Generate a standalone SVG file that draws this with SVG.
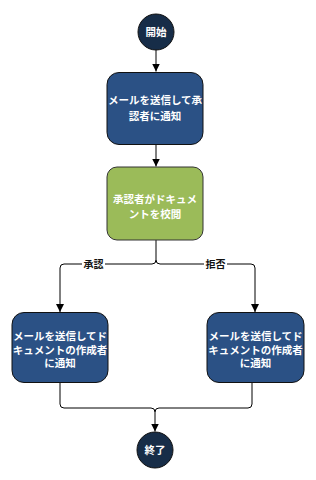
<svg xmlns="http://www.w3.org/2000/svg" width="316" height="480" viewBox="0 0 316 480">
<style>
.term{fill:#172d48;stroke:#111;stroke-width:1}
.box{fill:#2b5185;stroke:#111;stroke-width:1}
.chk{fill:#9bbb59;stroke:#333;stroke-width:1}
text{font-family:"Noto Sans CJK JP","Noto Sans CJK SC",sans-serif;font-weight:bold;fill:#fff;text-anchor:middle;font-size:10.5px}
.lbl{fill:#111;font-size:10px}
.c{fill:none;stroke:#000;stroke-width:1}
</style>
<defs>
<marker id="ah" viewBox="0 0 10 10" refX="10" refY="5" markerWidth="8" markerHeight="8" markerUnits="userSpaceOnUse" orient="auto">
<path d="M0,0 L10,5 L0,10 z" fill="#000"/>
</marker>
</defs>
<g id="connectors">
<path class="c" d="M156,50 V71.5" marker-end="url(#ah)"/>
<path class="c" d="M156,145 V166.5" marker-end="url(#ah)"/>
<path class="c" d="M156,240 V260 Q156,264 152,264 H64 Q60,264 60,268 V312" marker-end="url(#ah)"/>
<path class="c" d="M156,260 Q156,264 160,264 H251 Q255,264 255,268 V312" marker-end="url(#ah)"/>
<path class="c" d="M60,383 V404 Q60,408 64,408 H151 Q155,408 155,412 V431.5" marker-end="url(#ah)"/>
<path class="c" d="M252,383 V404 Q252,408 248,408 H159 Q155,408 155,412"/>
<rect x="82" y="258" width="23" height="12" fill="#fff"/>
<rect x="204" y="258" width="23" height="12" fill="#fff"/>
<text class="lbl" x="93.5" y="268">承認</text>
<text class="lbl" x="215.5" y="268">拒否</text>
</g>
<g id="start">
<circle class="term" cx="156" cy="32" r="18"/>
<text x="156" y="36">開始</text>
</g>
<g id="notify-approver">
<rect class="box" x="107" y="72.5" width="96" height="72" rx="12"/>
<text x="155" y="104">メールを送信して承</text>
<text x="155" y="120">認者に通知</text>
</g>
<g id="review">
<rect class="chk" x="107" y="167" width="96" height="73" rx="10"/>
<text x="155" y="203">承認者がドキュメ</text>
<text x="155" y="218">ントを校閲</text>
</g>
<g id="notify-author-approved">
<rect class="box" x="12" y="312.5" width="96" height="70" rx="12"/>
<text x="60" y="340">メールを送信してド</text>
<text x="60" y="353.5">キュメントの作成者</text>
<text x="60" y="367">に通知</text>
</g>
<g id="notify-author-rejected">
<rect class="box" x="207" y="312.5" width="97" height="70" rx="12"/>
<text x="255.5" y="340">メールを送信してド</text>
<text x="255.5" y="353.5">キュメントの作成者</text>
<text x="255.5" y="367">に通知</text>
</g>
<g id="end">
<circle class="term" cx="155" cy="450" r="18"/>
<text x="155" y="454">終了</text>
</g>
</svg>
